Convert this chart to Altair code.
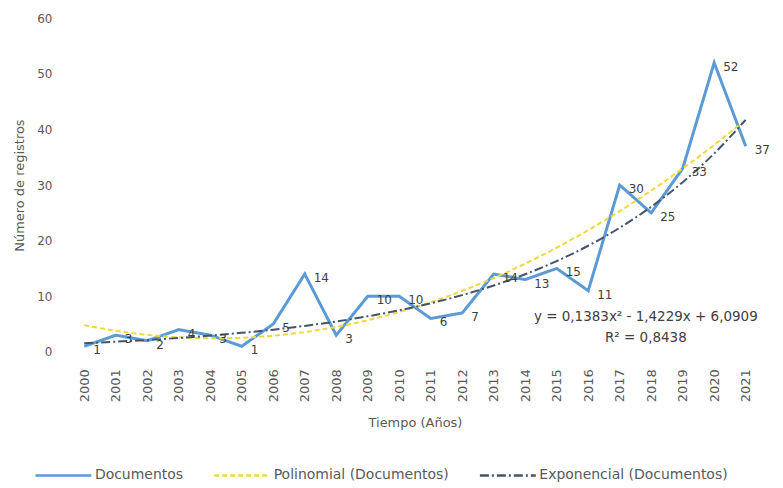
import altair as alt
import pandas as pd

anios = list(range(2000, 2022))
documentos = [1, 3, 2, 4, 3, 1, 5, 14, 3, 10, 10, 6, 7, 14, 13, 15, 11, 30, 25, 33, 52, 37]
series = ["Documentos", "Polinomial (Documentos)", "Exponencial (Documentos)"]
colores = ["#5B9BD5", "#EED83A", "#44546A"]
trazos = [[1, 0], [5, 3], [9, 3, 2, 3]]
ecuacion = ["y = 0,1383x² - 1,4229x + 6,0909", "R² = 0,8438"]
ecuacion_x = [2017.83, 2017.83]
ecuacion_y = [6.3, 2.5]
y_ticks = [0, 10, 20, 30, 40, 50, 60]

df = pd.DataFrame({"anio": anios, "docs": documentos})
eq = pd.DataFrame({"anio": ecuacion_x, "docs": ecuacion_y, "txt": ecuacion})

FONT = "DejaVu Sans"
GRAY = "#595959"

x = alt.X("anio:Q",
          scale=alt.Scale(domain=[1999.45, 2021.55], nice=False, zero=False),
          axis=alt.Axis(values=anios, format="d", labelAngle=-90, title="Tiempo (Años)",
                        grid=False, domain=False, ticks=False, labelPadding=17, titlePadding=15,
                        labelFont=FONT, labelFontSize=13, labelColor=GRAY,
                        titleFont=FONT, titleFontSize=13, titleFontWeight="normal", titleColor=GRAY))
y = alt.Y("docs:Q",
          scale=alt.Scale(domain=[0, 60]),
          axis=alt.Axis(values=y_ticks, title="Número de registros", grid=False, domain=False,
                        ticks=False, labelPadding=15, titlePadding=10,
                        labelFont=FONT, labelFontSize=12, labelColor=GRAY,
                        titleFont=FONT, titleFontSize=13, titleFontWeight="normal", titleColor=GRAY))

leg = alt.Legend(title=None, orient="none", direction="horizontal", legendX=-33, legendY=449,
                 symbolType="M-1,0H7", symbolSize=196, symbolStrokeWidth=2.5, labelOffset=44,
                 labelFont=FONT, labelFontSize=14, labelColor=GRAY, labelLimit=400,
                 columnPadding=25)
color = alt.Color("serie:N", scale=alt.Scale(domain=series, range=colores), legend=leg, sort=series)
dash = alt.StrokeDash("serie:N", scale=alt.Scale(domain=series, range=trazos), legend=leg, sort=series)

base = alt.Chart(df)

docs_line = base.transform_calculate(serie="'Documentos'").mark_line(strokeWidth=3).encode(
    x=x, y=y, color=color, strokeDash=dash)

poly = base.transform_regression("anio", "docs", method="poly", order=2).transform_calculate(
    serie="'Polinomial (Documentos)'").mark_line(strokeWidth=2).encode(
    x=x, y=y, color=color, strokeDash=dash)

# Exponential trend (least squares on ln(y), as in a spreadsheet trendline)
expo = base.transform_calculate(
    xc="datum.anio - 2000", ly="log(datum.docs)"
).transform_calculate(
    xly="datum.xc * datum.ly", x2="datum.xc * datum.xc"
).transform_joinaggregate(
    sx="sum(xc)", sly="sum(ly)", sxly="sum(xly)", sx2="sum(x2)", n="count()"
).transform_calculate(
    b="(datum.n * datum.sxly - datum.sx * datum.sly) / (datum.n * datum.sx2 - datum.sx * datum.sx)"
).transform_calculate(
    a="(datum.sly - datum.b * datum.sx) / datum.n"
).transform_calculate(
    docs="exp(datum.a + datum.b * datum.xc)", serie="'Exponencial (Documentos)'"
).mark_line(strokeWidth=2, interpolate="monotone").encode(
    x=x, y=y, color=color, strokeDash=dash)

labels = base.mark_text(align="left", baseline="middle", dx=9, dy=4, font=FONT, fontSize=12,
                        color="#404040").encode(x=x, y=y, text=alt.Text("docs:Q"))

eq_text = alt.Chart(eq).mark_text(align="center", baseline="middle", font=FONT, fontSize=13.5,
                                  color="#404040").encode(x=x, y=y, text="txt:N")

chart = alt.layer(docs_line, poly, expo, labels, eq_text).properties(
    width=697, height=334,
    padding={"left": 5, "top": 4, "right": 5, "bottom": 0}
).configure_view(stroke=None)

chart.save("out.html", embed_options={"renderer": "svg", "actions": False})
